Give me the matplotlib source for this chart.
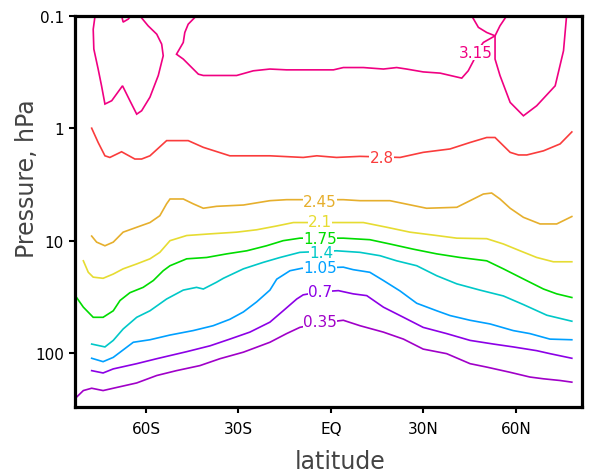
import numpy as np
import matplotlib
matplotlib.use("Agg")
import matplotlib.pyplot as plt
from matplotlib.ticker import NullLocator

# contour levels and GrADS-style rainbow colours
levels = [0.35, 0.7, 1.05, 1.4, 1.75, 2.1, 2.45, 2.8, 3.15]
level_labels = ['0.35', '0.7', '1.05', '1.4', '1.75', '2.1', '2.45', '2.8', '3.15']
colors = ['#a000c8', '#8c00e6', '#00a0ff', '#00c8c8', '#00dc00',
          '#e6dc32', '#e6af2d', '#fa3c3c', '#f00082']

# contour lines traced as (latitude, pressure hPa)
lat_035 = [-82.5, -80.3, -77.6, -73.9, -70.6, -63.0, -56.5, -50.1, -42.5, -36.0, -28.4,
           -19.8, -14.4, -10.1, -3.5, 4.0, 9.4, 17.0, 23.5, 29.9, 37.5, 45.1, 50.5,
           58.1, 64.5, 68.9, 74.3, 78.1]
p_035 = [246, 215, 205, 215, 205, 184, 158, 143, 129, 112, 98,
         80, 67, 59, 54, 51, 57, 65, 75, 92, 101, 124, 133,
         148, 163, 169, 175, 181]

lat_070 = [-77.6, -73.9, -70.6, -63.0, -56.5, -46.8, -39.2, -32.8, -26.3, -19.8, -15.5,
           -11.1, -9.0, -3.5, 2.4, 7.2, 11.6, 17.0, 23.5, 29.9, 37.5, 45.1, 52.7,
           59.1, 66.7, 71.0, 78.1]
p_070 = [143, 150, 138, 124, 112, 97, 86, 75, 65, 53, 42,
         33, 30.3, 28.5, 27.8, 29.7, 30.8, 39, 48, 59, 67, 77, 83,
         88, 95, 101, 111]

lat_105 = [-77.6, -73.9, -70.6, -64.1, -58.7, -52.2, -44.7, -38.2, -32.8, -28.4, -24.1,
           -19.8, -17.6, -13.3, -9.5, 4.0, 7.2, 12.6, 17.0, 22.4, 27.8, 34.3, 38.6,
           45.1, 51.6, 59.1, 64.5, 71.0, 78.1]
p_105 = [111, 119, 109, 80, 76, 69, 63, 57, 50, 43, 35,
         27.5, 22, 18.5, 17.6, 17.2, 18.1, 19.1, 22.6, 28, 36, 42, 46.3,
         51, 55, 63, 67, 75, 76]

lat_140 = [-77.6, -73.3, -70.6, -67.4, -63.0, -58.7, -53.3, -47.9, -43.6, -41.4, -37.1,
           -34.9, -28.4, -22.0, -16.5, -10.1, 1.8, 9.4, 15.9, 21.3, 27.8, 34.3, 40.8,
           48.3, 55.9, 62.4, 70.0, 78.1]
p_140 = [83, 88, 77, 61, 48, 42, 33, 27.5, 26, 26.9, 23.4,
         21.6, 17.8, 15.6, 14.1, 12.7, 12.3, 12.7, 13.6, 15.1, 16.7, 20.5, 24.2,
         27.5, 31, 37, 46, 52]

lat_175 = [-82.5, -80.3, -77.1, -73.9, -70.6, -68.4, -65.2, -60.9, -57.6, -54.4, -52.2,
           -46.8, -40.3, -33.8, -27.3, -20.9, -15.5, -10.1, 4.0, 12.6, 19.1, 26.7,
           34.3, 41.8, 50.5, 55.9, 62.4, 68.9, 73.2, 78.1]
p_175 = [32, 39, 48, 48, 42, 34, 29, 26, 22.6, 18.5, 16.7,
         14.5, 14.1, 13.1, 12.3, 11.1, 10, 9.5, 9.5, 9.8, 10.7, 11.9,
         13.1, 14.1, 15.1, 17.8, 21.9, 26.9, 29.7, 32]

lat_210 = [-80.3, -78.7, -77.1, -73.9, -70.6, -67.4, -63.0, -58.7, -55.5, -52.2, -46.8,
           -39.2, -30.6, -24.1, -17.6, -12.2, -8.4, 1.8, 10.5, 18.1, 25.6, 34.3,
           40.8, 50.5, 55.9, 61.3, 66.7, 72.1, 78.1]
p_210 = [15.1, 19.1, 21.1, 21.6, 19.8, 17.8, 16.1, 14.5, 12.7, 10, 9.0,
         8.7, 8.4, 8.0, 7.4, 6.9, 6.9, 6.9, 6.9, 7.6, 8.4, 9.0,
         9.5, 9.6, 10.7, 12.3, 14.1, 15.4, 15.4]

lat_245 = [-77.6, -76.0, -73.3, -70.6, -67.4, -63.0, -58.7, -55.5, -53.3, -52.2, -47.9,
           -44.7, -41.4, -37.1, -28.4, -19.8, -14.4, -10.1, 4.0, 9.4, 19.1, 31.0,
           40.8, 45.1, 49.4, 52.1, 54.8, 58.1, 62.4, 67.8, 73.2, 78.1]
p_245 = [9.1, 10.3, 11.1, 10.3, 8.4, 7.6, 6.9, 6.0, 4.7, 4.26, 4.26,
         4.7, 5.15, 4.95, 4.82, 4.41, 4.32, 4.32, 4.32, 4.41, 4.41, 5.15,
         5.05, 4.41, 3.85, 3.77, 4.26, 5.15, 6.2, 7.1, 7.1, 6.1]

lat_280 = [-77.6, -75.5, -73.3, -71.7, -67.9, -63.6, -61.4, -58.7, -53.3, -46.3, -41.4,
           -32.8, -19.8, -9.0, -4.6, 1.8, 9.4, 22.4, 29.9, 38.6, 45.1, 50.5, 53.2,
           58.1, 60.8, 63.5, 68.9, 74.3, 78.1]
p_280 = [1.0, 1.34, 1.76, 1.82, 1.62, 1.88, 1.88, 1.76, 1.29, 1.29, 1.48,
         1.76, 1.76, 1.82, 1.76, 1.82, 1.78, 1.82, 1.64, 1.53, 1.34, 1.21, 1.21,
         1.64, 1.73, 1.73, 1.59, 1.38, 1.08]

# 3.15 contour comes in several pieces near the top of the domain
lat_315a = [-76.5, -77.1, -76.9, -75.5, -74.4, -73.3, -71.1, -67.6, -65.2, -63.0, -61.4,
            -58.7, -56.0, -54.4, -54.9, -56.5, -59.3, -62.0]
p_315a = [0.1, 0.132, 0.198, 0.298, 0.42, 0.61, 0.57, 0.42, 0.57, 0.75, 0.70,
          0.53, 0.34, 0.227, 0.179, 0.146, 0.123, 0.1]
lat_315b = [-67.9, -67.4, -65.7, -64.9]
p_315b = [0.1, 0.114, 0.107, 0.1]
lat_315c = [-43.6, -46.3, -47.4, -47.9, -50.1, -47.9, -43.0, -41.4, -36.0, -30.6, -25.2,
            -19.8, -14.4, 0.8, 4.0, 10.5, 17.0, 21.3, 24.5, 29.9, 35.4, 42.4, 44.5,
            46.2, 47.5, 49.4, 53.2, 50.5, 47.8, 45.6]
p_315c = [0.1, 0.119, 0.141, 0.173, 0.22, 0.243, 0.331, 0.34, 0.34, 0.34, 0.309,
          0.298, 0.303, 0.303, 0.289, 0.289, 0.298, 0.289, 0.298, 0.316, 0.324, 0.359, 0.309,
          0.252, 0.205, 0.173, 0.151, 0.141, 0.127, 0.1]
lat_315d = [57.0, 54.8, 53.2, 53.2, 54.8, 58.1, 62.4, 66.7, 72.7, 75.4, 76.4]
p_315d = [0.1, 0.123, 0.151, 0.243, 0.34, 0.59, 0.776, 0.632, 0.42, 0.205, 0.1]

# where each contour label sits
label_lat = [-3.6, -3.6, -3.6, -3.0, -3.6, -3.6, -3.6, 16.4, 46.9]
label_p = [50.4, 27.5, 16.9, 12.3, 9.3, 6.6, 4.32, 1.76, 0.206]

xticks = [-60, -30, 0, 30, 60]
xtick_labels = ['60S', '30S', 'EQ', '30N', '60N']
yticks = [0.1, 1, 10, 100]
ytick_labels = ['0.1', '1', '10', '100']

lines = [
    [(lat_035, p_035)],
    [(lat_070, p_070)],
    [(lat_105, p_105)],
    [(lat_140, p_140)],
    [(lat_175, p_175)],
    [(lat_210, p_210)],
    [(lat_245, p_245)],
    [(lat_280, p_280)],
    [(lat_315a, p_315a), (lat_315b, p_315b), (lat_315c, p_315c), (lat_315d, p_315d)],
]

fig = plt.figure(figsize=(6.05, 4.77), dpi=100)
ax = fig.add_axes([0.124, 0.145, 0.838, 0.820])

for segs, col in zip(lines, colors):
    for la, pp in segs:
        ax.plot(la, pp, color=col, lw=1.2, solid_joinstyle='miter', zorder=2)

for txt, la, pp, col in zip(level_labels, label_lat, label_p, colors):
    ax.text(la, pp, txt, color=col, fontsize=11, ha='center', va='center_baseline',
            zorder=3, bbox=dict(boxstyle='square,pad=0.02', fc='white', ec='none'))

ax.set_yscale('log')
ax.set_ylim(300, 0.1)
ax.set_xlim(-83, 81.4)
ax.yaxis.set_minor_locator(NullLocator())
ax.set_yticks(yticks)
ax.set_yticklabels(ytick_labels)
ax.set_xticks(xticks)
ax.set_xticklabels(xtick_labels)
ax.tick_params(axis='both', direction='out', length=4, width=1.5, labelsize=11,
               colors='black')
ax.tick_params(axis='x', pad=6)
ax.tick_params(axis='y', pad=4)
for sp in ax.spines.values():
    sp.set_linewidth(2.3)

fig.text(27 / 605, 1 - 179 / 477, 'Pressure, hPa', rotation=90, fontsize=17,
         color='#444444', ha='center', va='center')
fig.text(340 / 605, 1 - 462 / 477, 'latitude', fontsize=17,
         color='#444444', ha='center', va='center')

fig.savefig('out.png', dpi=100)
